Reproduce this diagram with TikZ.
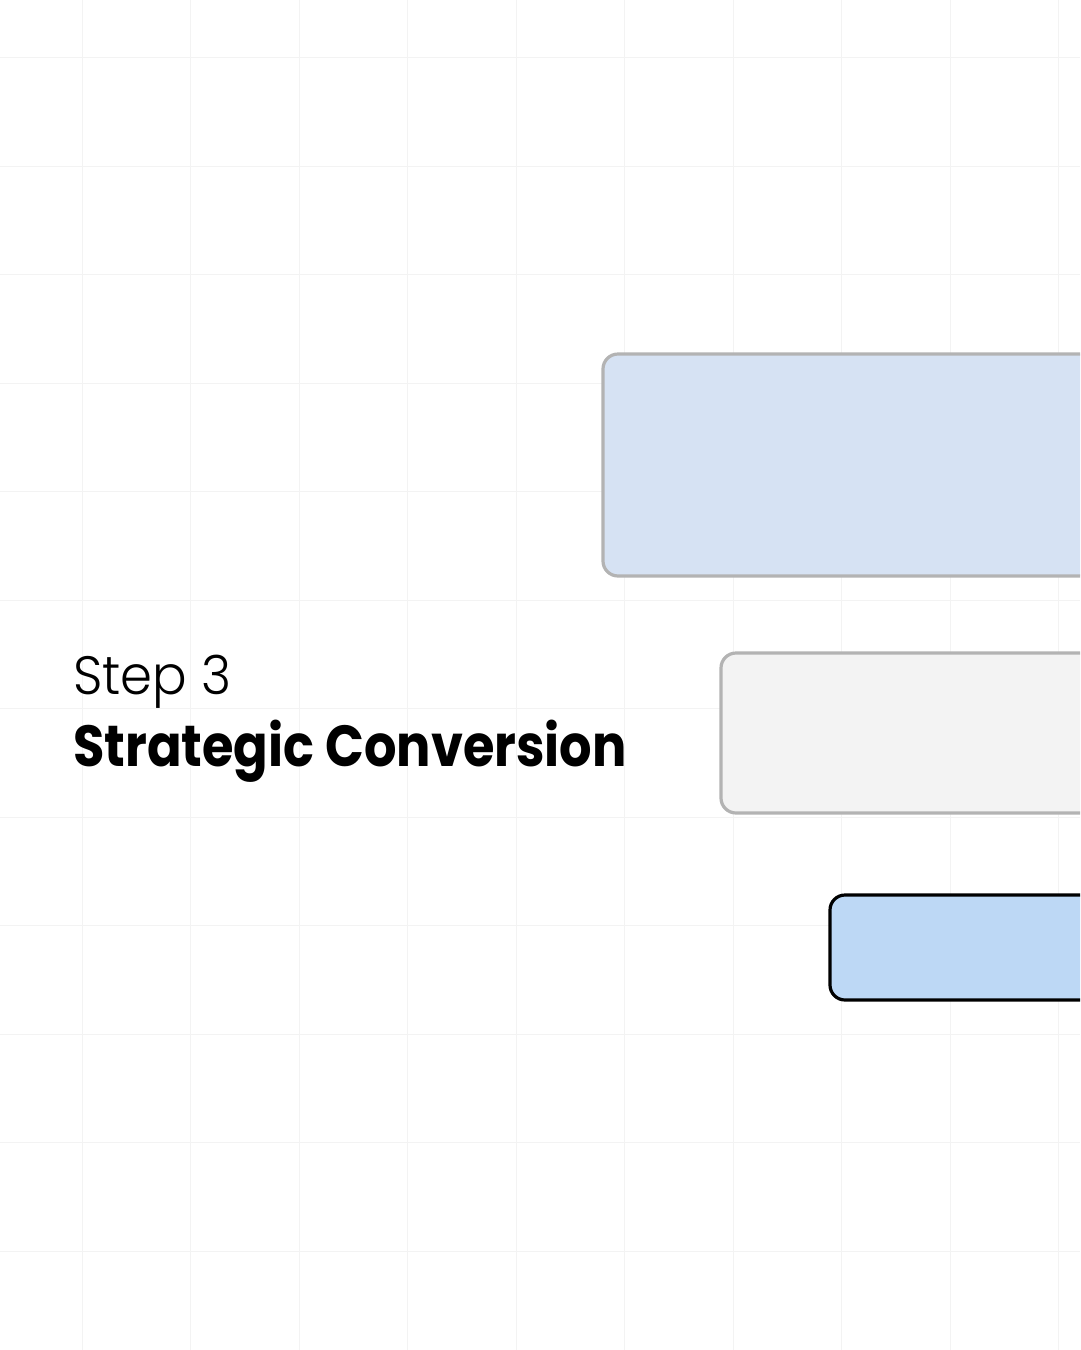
\documentclass[tikz,border=0pt]{standalone}
\usepackage{fontspec}
\setmainfont{Poppins}
\newfontfamily\lightfont{Poppins Light}[FakeStretch=0.95]
\newfontfamily\titlefont{Poppins Bold}[FakeStretch=0.88]
\definecolor{gridc}{HTML}{F3F3F3}
\definecolor{boxblue}{HTML}{D6E2F3}
\definecolor{boxgrey}{HTML}{F3F3F3}
\definecolor{boxbright}{HTML}{BDD8F5}
\definecolor{edgegrey}{HTML}{B3B3B3}
\tikzset{
  gridline/.style={draw=gridc, line width=1pt},
  card/.style={rounded corners=15pt, line width=3.2pt},
  steplabel/.style={anchor=base west, inner sep=0pt, font=\lightfont\fontsize{54}{60}\selectfont},
  titlelabel/.style={anchor=base west, inner sep=0pt, font=\titlefont\fontsize{58}{66}\selectfont}
}
\begin{document}
\begin{tikzpicture}[x=1pt,y=-1pt]
\useasboundingbox (0,0) rectangle (1080,1350);
\fill[white] (0,0) rectangle (1080,1350);
% grid
\foreach \i in {0,...,9} {
  \draw[gridline] (82+108.5*\i,0) -- (82+108.5*\i,1350);
}
\foreach \j in {0,...,11} {
  \draw[gridline] (0,57.5+108.5*\j) -- (1080,57.5+108.5*\j);
}
% cards
\begin{scope}
\clip (0,0) rectangle (1080,1350);
\draw[card, fill=boxblue, draw=edgegrey] (603,354) rectangle (1120,576);
\draw[card, fill=boxgrey, draw=edgegrey] (721,653) rectangle (1120,813);
\draw[card, fill=boxbright, draw=black] (830,895) rectangle (1120,1000);
\end{scope}
% text
\node[steplabel] (step) at (73,694) {Step 3};
\node[titlelabel] (title) at (73,766) {Strategic Conversion};
\end{tikzpicture}
\end{document}
